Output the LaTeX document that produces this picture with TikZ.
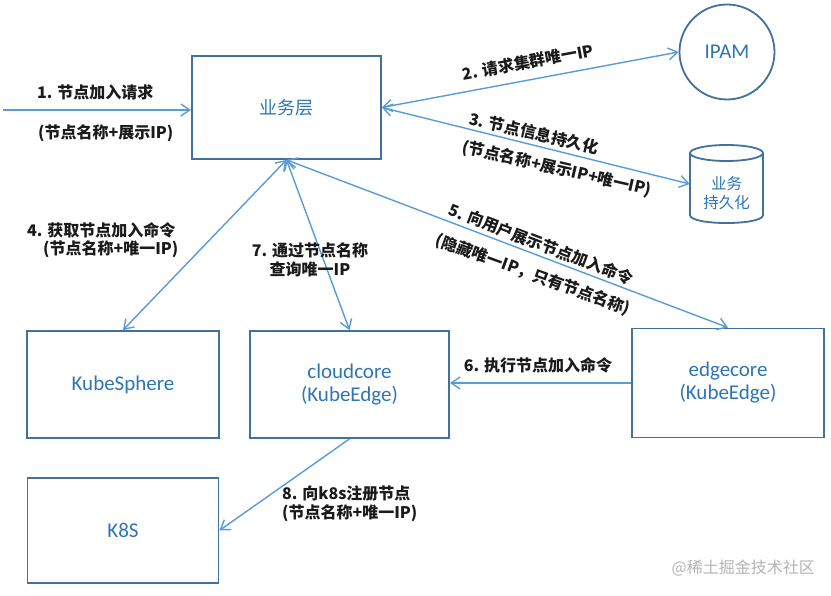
\documentclass[tikz,border=0pt]{standalone}
\usepackage{fontspec}
\setmainfont{Carlito}
\newfontfamily\cjk{Noto Sans CJK SC}
\usetikzlibrary{arrows.meta,calc}
\definecolor{linec}{HTML}{5B9BD5}
\definecolor{boxc}{HTML}{41719C}
\definecolor{txtc}{HTML}{2E75B6}
\definecolor{labc}{HTML}{1A1A1A}
\definecolor{wmc}{HTML}{B4B4B4}
\begin{document}
\begin{tikzpicture}[x=1pt,y=-1pt,
  >={Straight Barb[length=9pt,width=12pt]},
  conn/.style={draw=linec,line width=1.4pt},
  blk/.style={draw=boxc,line width=1.8pt,rectangle,inner sep=0pt,text=txtc,
    font=\fontsize{21}{23}\selectfont,align=center},
  lab/.style={text=labc,font=\cjk\bfseries\fontsize{16}{19}\selectfont,inner sep=0pt,align=center},
]
\useasboundingbox (0,0) rectangle (831,596);
\fill[white] (0,0) rectangle (831,596);

% boxes
\node[blk,minimum width=189,minimum height=103,font=\cjk\fontsize{18}{22}\selectfont] (biz) at (286.5,107.5) {业务层};
\node[draw=boxc,line width=1.8pt,circle,minimum size=95,inner sep=0pt,text=txtc,
  font=\fontsize{21}{23}\selectfont] (ipam) at (727,52) {IPAM};
\node[minimum width=73,minimum height=78,inner sep=0pt] (cyl) at (726.5,184) {};
\draw[draw=boxc,line width=1.8pt] (690,153) -- (690,215) .. controls (690,225.7) and (763,225.7) .. (763,215) -- (763,153);
\draw[draw=boxc,line width=1.8pt] (726.5,153) ellipse [x radius=36.5, y radius=8];
\node[text=txtc,font=\cjk\fontsize{15.5}{19}\selectfont,align=center,inner sep=0pt] (cylt) at (726.5,193) {业务\\持久化};

\node[blk,minimum width=192,minimum height=107] (ks) at (123,384.5) {KubeSphere};
\node[blk,minimum width=199,minimum height=107] (cc) at (349.5,384.5) {cloudcore\\(KubeEdge)};
\node[blk,minimum width=192,minimum height=109] (ec) at (728,383) {edgecore\\(KubeEdge)};
\node[blk,minimum width=191,minimum height=105] (k8s) at (123,530.5) {K8S};

% connectors
\coordinate (in) at (3,110);
\draw[conn,->] (in) -- (in -| biz.west);
\draw[conn,<->] (biz.east) -- (ipam.west);
\draw[conn,<->] (biz.east) -- (cyl.west);
\draw[conn,<->] (biz.south) -- (ks.north);
\draw[conn,<->] (biz.south) -- (cc.north);
\draw[conn,<->] (biz.south) -- (ec.north);
\draw[conn,->] (ec.west) -- (ec.west -| cc.east);
\draw[conn,->] (cc.south) -- (k8s.east);

% labels
\node[lab,anchor=west] (l1a) at (37,92) {1. 节点加入请求};
\node[lab,anchor=west] (l1b) at (38,133) {(节点名称+展示IP)};
\node[lab,rotate=10.4] (l2) at (528,62) {2. 请求集群唯一IP};
\node[lab,rotate=-13] (l3a) at (534,133) {3. 节点信息持久化};
\node[lab,rotate=-13] (l3b) at (557,169) {(节点名称+展示IP+唯一IP)};
\node[lab,anchor=west] (l4a) at (27,230) {4. 获取节点加入命令};
\node[lab,anchor=west] (l4b) at (43,249) {(节点名称+唯一IP)};
\node[lab] (l7) at (310,260) {7. 通过节点名称\\查询唯一IP};
\node[lab,rotate=-21] (l5a) at (541,244) {5. 向用户展示节点加入命令};
\node[lab,rotate=-20] (l5b) at (533,275) {(隐藏唯一IP，只有节点名称)};
\node[lab] (l6) at (538,365) {6. 执行节点加入命令};
\node[lab,anchor=west] (l8a) at (282,493) {8. 向k8s注册节点};
\node[lab,anchor=west] (l8b) at (282,513) {(节点名称+唯一IP)};
\node[text=wmc,font=\cjk\fontsize{16}{18}\selectfont,anchor=east,inner sep=0pt] (wm) at (815,568) {@稀土掘金技术社区};
\end{tikzpicture}
\end{document}
